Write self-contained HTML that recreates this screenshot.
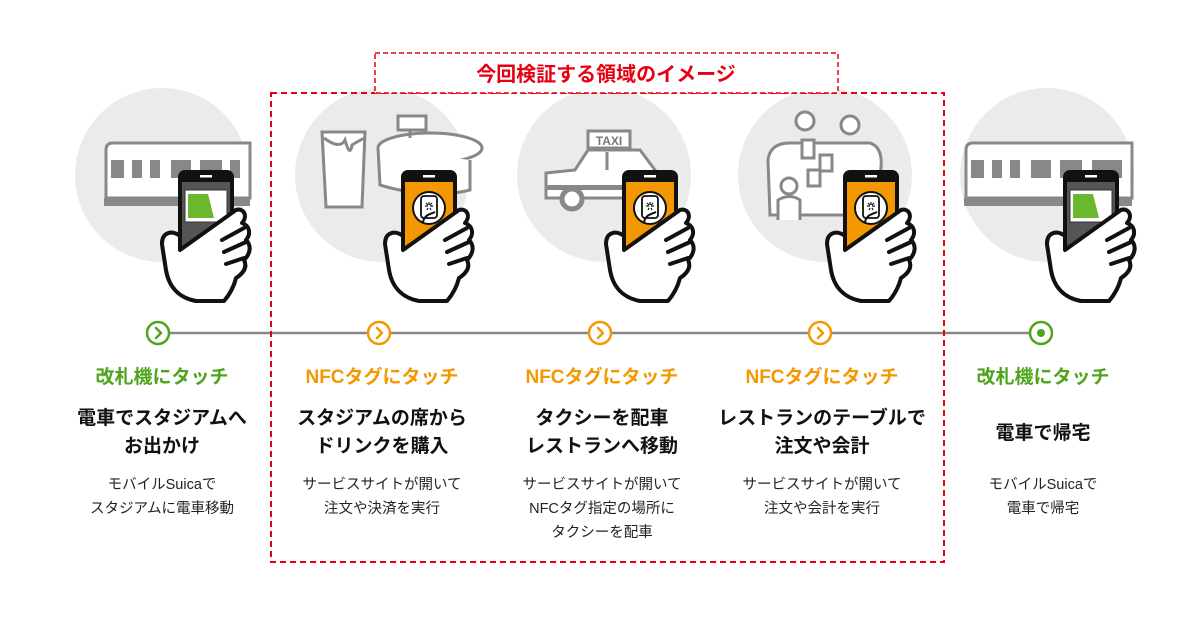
<!DOCTYPE html>
<html><head><meta charset="utf-8">
<style>
html,body{margin:0;padding:0;background:#fff;}
body{width:1200px;height:630px;position:relative;overflow:hidden;font-family:"Liberation Sans","Noto Sans CJK JP",sans-serif;}
.col{position:absolute;width:220px;text-align:center;}
.h{font-size:19px;font-weight:bold;top:366px;line-height:24px;}
.g{color:#4ea51c}.o{color:#f39800}
.t{font-size:19px;font-weight:bold;color:#111;top:405px;line-height:28px;}
.d{font-size:14.5px;color:#222;top:473px;line-height:24px;}
</style></head><body>
<svg width="1200" height="630" style="position:absolute;left:0;top:0">
<defs>
<g id="hand">
 <rect x="0" y="0" width="56" height="110" rx="7" fill="#111"/>
 <rect x="4" y="12" width="48" height="95" fill="#f39800"/>
 <rect x="22" y="5" width="12" height="2.5" fill="#fff"/>
 <path d="M2,66 C-6,60 -16,62 -16,74 L-12,100 C-9,118 2,128 18,131 L46,131 C52,124 56,116 58,108 C64,104 70,98 66,90 C72,84 74,76 68,70 C73,64 72,56 64,53 C70,46 66,38 58,40 L2,80 Z" fill="#fff" stroke="#111" stroke-width="4" stroke-linejoin="round"/>
 <path d="M44,70 L66,58 M46,82 L68,72 M48,94 L66,88" stroke="#111" stroke-width="4" stroke-linecap="round"/>
</g>
<g id="nfc">
 <circle cx="28" cy="38" r="16" fill="#fff" stroke="#111" stroke-width="2"/>
 <rect x="20" y="26" width="16" height="22" rx="3" fill="#fff" stroke="#111" stroke-width="1.8"/>
 <path d="M28,32 v3 M24,36 h3 M29,36 h3 M25,33 l2,2 M31,33 l-2,2 M26,40 l1,-2 M30,40 l-1,-2" stroke="#111" stroke-width="1.2"/>
 <path d="M22,52 C24,44 30,44 34,42" stroke="#111" stroke-width="2" fill="none"/>
</g>
<g id="card">
 <rect x="4" y="12" width="48" height="95" fill="#555"/>
 <rect x="7" y="20" width="42" height="32" fill="#fff" stroke="#333" stroke-width="1"/>
 <path d="M10,24 L30,24 L36,48 L10,48 Z" fill="#6ab82e"/>
</g>
</defs>
<!-- circles -->
<g fill="#ebebeb">
<circle cx="162" cy="175" r="87"/><circle cx="382" cy="175" r="87"/><circle cx="604" cy="175" r="87"/><circle cx="825" cy="175" r="87"/><circle cx="1047" cy="175" r="87"/>
</g>
<!-- train 1 -->
<g stroke="#888" stroke-width="3" fill="#fff">
<path d="M106,150 Q106,143 113,143 L250,143 L250,198 L106,198 Z"/>
<path d="M966,150 Q966,143 973,143 L1132,143 L1132,198 L966,198 Z"/>
</g>
<g fill="#888">
<rect x="111" y="160" width="13" height="18"/><rect x="132" y="160" width="10" height="18"/><rect x="150" y="160" width="10" height="18"/><rect x="171" y="160" width="20" height="18"/><rect x="200" y="160" width="22" height="18"/><rect x="230" y="160" width="10" height="18"/>
<rect x="104" y="198" width="146" height="8"/>
<rect x="971" y="160" width="13" height="18"/><rect x="992" y="160" width="10" height="18"/><rect x="1010" y="160" width="10" height="18"/><rect x="1031" y="160" width="20" height="18"/><rect x="1060" y="160" width="22" height="18"/><rect x="1092" y="160" width="30" height="18"/>
<rect x="964" y="198" width="168" height="8"/>
</g>
<!-- mug & stadium -->
<g stroke="#888" stroke-width="3" fill="#fff">
<path d="M322,132 L365,132 L362,207 L326,207 Z"/>
<path d="M324,138 Q340,150 345,140 Q350,158 352,145 Q360,140 365,138" fill="none"/>
<ellipse cx="430" cy="148" rx="52" ry="15"/>
<path d="M378,148 L380,185 Q430,200 470,190 L470,160"/>
<rect x="398" y="116" width="28" height="14"/>
<path d="M410,130 v8"/>
</g>
<!-- taxi -->
<g stroke="#888" stroke-width="3" fill="#fff">
<path d="M546,173 L575,170 L588,150 L640,150 L655,170 L650,198 L546,198 Z"/>
<rect x="588" y="131" width="42" height="17"/>
<path d="M607,152 v18"/>
<circle cx="572" cy="199" r="10" fill="#fff" stroke-width="5"/>
</g>
<text x="609" y="145" font-family="Liberation Sans" font-weight="bold" font-size="12" fill="#777" text-anchor="middle">TAXI</text>
<rect x="546" y="185" width="100" height="5" fill="#888"/>
<!-- people -->
<g stroke="#888" stroke-width="3" fill="#fff">
<circle cx="805" cy="121" r="9"/><circle cx="850" cy="125" r="9"/>
<path d="M768,160 Q770,143 790,143 L870,143 Q885,148 880,175 L880,215 L770,215 Z"/>
<rect x="802" y="140" width="12" height="18"/><rect x="820" y="155" width="12" height="16"/><rect x="808" y="170" width="12" height="16"/>
<circle cx="789" cy="186" r="8"/>
<path d="M778,220 L778,200 Q790,193 800,200 L800,220"/>
</g>
<!-- hands -->
<use href="#hand" x="178" y="170"/><use href="#card" x="178" y="170"/><use href="#hand" x="178" y="170" opacity="0"/>
<g transform="translate(178,170)"><path d="M2,66 C-6,60 -16,62 -16,74 L-12,100 C-9,118 2,128 18,131 L46,131 C52,124 56,116 58,108 C64,104 70,98 66,90 C72,84 74,76 68,70 C73,64 72,56 64,53 C70,46 66,38 58,40 L2,80 Z" fill="#fff" stroke="#111" stroke-width="4" stroke-linejoin="round"/><path d="M44,70 L66,58 M46,82 L68,72 M48,94 L66,88" stroke="#111" stroke-width="4" stroke-linecap="round"/></g>
<use href="#hand" x="401" y="170"/><use href="#nfc" x="401" y="170"/>
<use href="#hand" x="622" y="170"/><use href="#nfc" x="622" y="170"/>
<use href="#hand" x="843" y="170"/><use href="#nfc" x="843" y="170"/>
<use href="#hand" x="1063" y="170"/><use href="#card" x="1063" y="170"/>
<g transform="translate(1063,170)"><path d="M2,66 C-6,60 -16,62 -16,74 L-12,100 C-9,118 2,128 18,131 L46,131 C52,124 56,116 58,108 C64,104 70,98 66,90 C72,84 74,76 68,70 C73,64 72,56 64,53 C70,46 66,38 58,40 L2,80 Z" fill="#fff" stroke="#111" stroke-width="4" stroke-linejoin="round"/><path d="M44,70 L66,58 M46,82 L68,72 M48,94 L66,88" stroke="#111" stroke-width="4" stroke-linecap="round"/></g>
<!-- timeline -->
<line x1="170" y1="333" x2="1030" y2="333" stroke="#888" stroke-width="2.5"/>
<g stroke-width="2.5" fill="#fff">
<circle cx="158" cy="333" r="11" stroke="#4ea51c"/>
<circle cx="379" cy="333" r="11" stroke="#f39800"/>
<circle cx="600" cy="333" r="11" stroke="#f39800"/>
<circle cx="820" cy="333" r="11" stroke="#f39800"/>
<circle cx="1041" cy="333" r="11" stroke="#4ea51c"/>
</g>
<g fill="none" stroke-width="2.5" stroke-linecap="round" stroke-linejoin="round">
<path d="M156,328 l5,5 l-5,5" stroke="#4ea51c"/>
<path d="M377,328 l5,5 l-5,5" stroke="#f39800"/>
<path d="M598,328 l5,5 l-5,5" stroke="#f39800"/>
<path d="M818,328 l5,5 l-5,5" stroke="#f39800"/>
</g>
<circle cx="1041" cy="333" r="4" fill="#4ea51c"/>
<!-- red dashed boxes -->
<rect x="271" y="93" width="673" height="469" fill="none" stroke="#e60012" stroke-width="2" stroke-dasharray="6,4"/>
<rect x="375" y="53" width="463" height="40" fill="#fff" stroke="#e60012" stroke-width="1.5" stroke-dasharray="5,3"/>
<text x="606" y="81" font-family="Liberation Sans,Noto Sans CJK JP,sans-serif" font-weight="bold" font-size="20" fill="#e60012" text-anchor="middle">今回検証する領域のイメージ</text>
</svg>

<div class="col h g" style="left:52px">改札機にタッチ</div>
<div class="col h o" style="left:272px">NFCタグにタッチ</div>
<div class="col h o" style="left:492px">NFCタグにタッチ</div>
<div class="col h o" style="left:712px">NFCタグにタッチ</div>
<div class="col h g" style="left:933px">改札機にタッチ</div>

<div class="col t" style="left:52px">電車でスタジアムへ<br>お出かけ</div>
<div class="col t" style="left:272px">スタジアムの席から<br>ドリンクを購入</div>
<div class="col t" style="left:492px">タクシーを配車<br>レストランへ移動</div>
<div class="col t" style="left:712px">レストランのテーブルで<br>注文や会計</div>
<div class="col t" style="left:933px;top:420px">電車で帰宅</div>

<div class="col d" style="left:52px">モバイルSuicaで<br>スタジアムに電車移動</div>
<div class="col d" style="left:272px">サービスサイトが開いて<br>注文や決済を実行</div>
<div class="col d" style="left:492px">サービスサイトが開いて<br>NFCタグ指定の場所に<br>タクシーを配車</div>
<div class="col d" style="left:712px">サービスサイトが開いて<br>注文や会計を実行</div>
<div class="col d" style="left:933px">モバイルSuicaで<br>電車で帰宅</div>
</body></html>
